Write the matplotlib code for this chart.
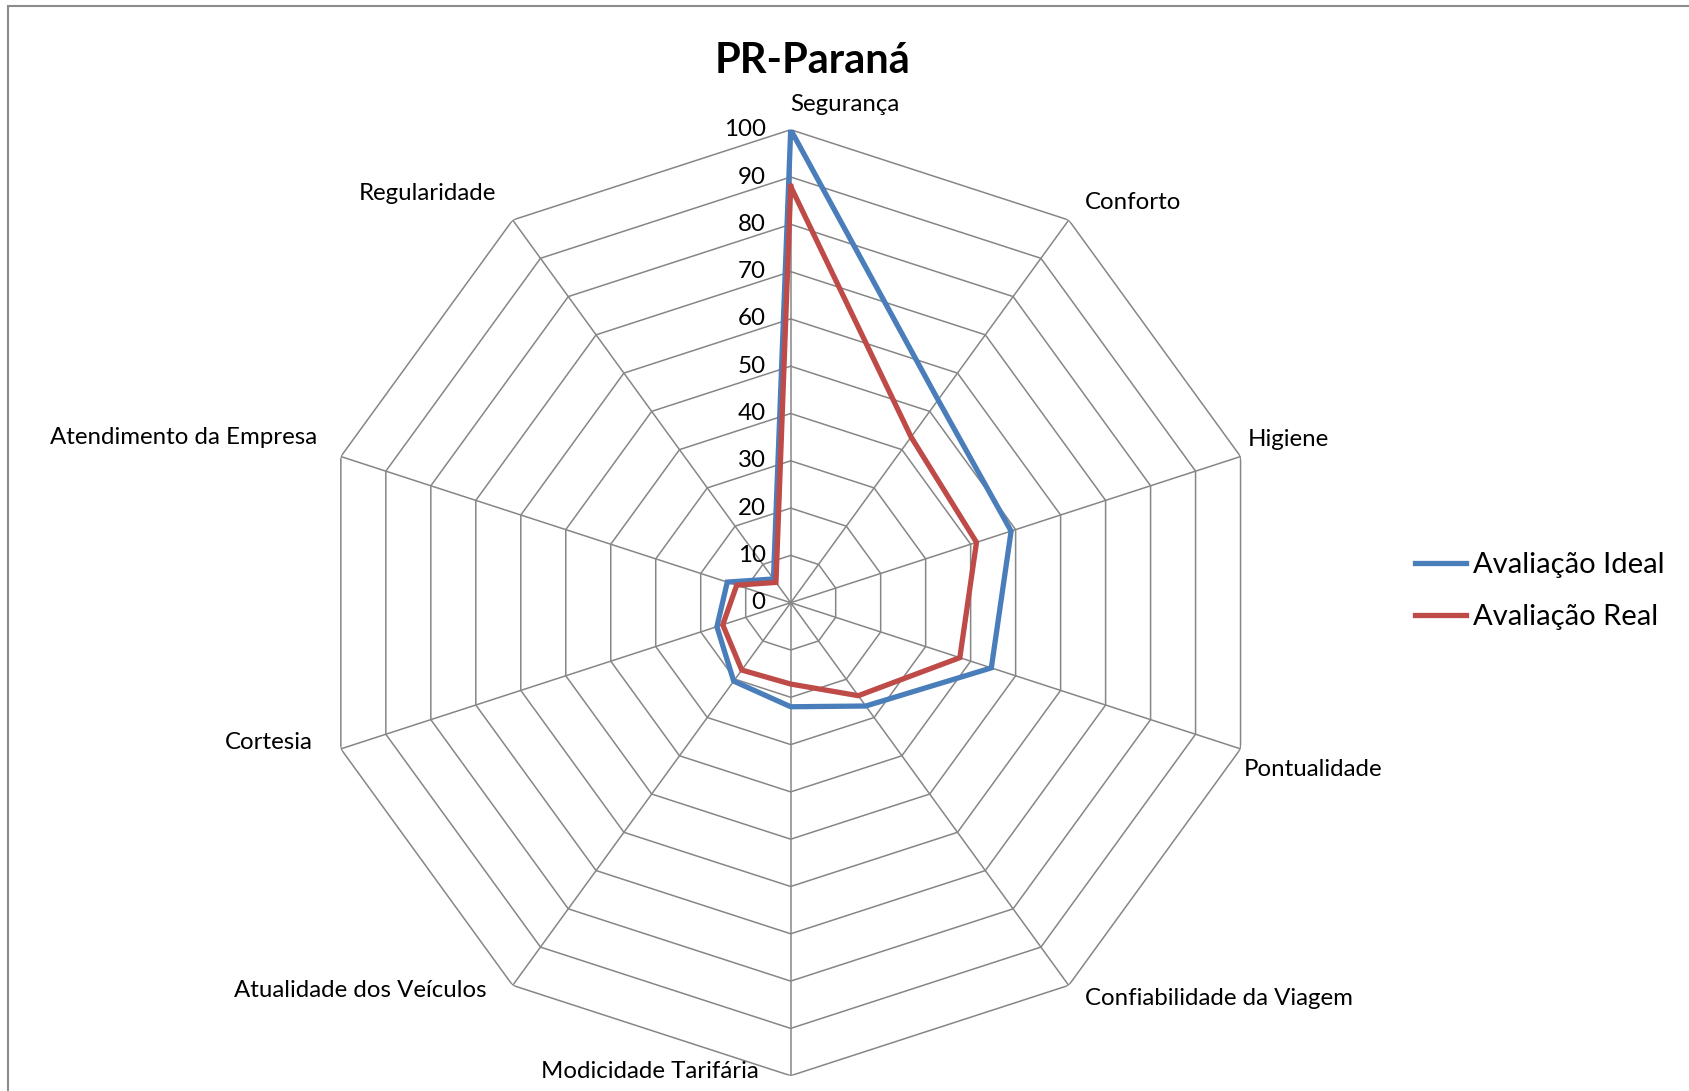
import numpy as np
import matplotlib
matplotlib.use("Agg")
import matplotlib.pyplot as plt
from matplotlib.patches import Rectangle

plt.rcParams['font.family'] = ['Lato', 'DejaVu Sans']

categories = ["Segurança", "Conforto", "Higiene", "Pontualidade", "Confiabilidade da Viagem",
              "Modicidade Tarifária", "Atualidade dos Veículos", "Cortesia",
              "Atendimento da Empresa", "Regularidade"]
ideal = [100, 53, 49, 44.6, 27, 22, 20.5, 16.4, 14.1, 6.2]
real = [88, 43.3, 41.3, 37.6, 24.3, 17.2, 17.6, 15.1, 12, 5.3]
ticks = [0, 10, 20, 30, 40, 50, 60, 70, 80, 90, 100]

# label offsets in pixels (dx, dy, ha)
label_pos = [(0, 25, 'left'), (16, 18, 'left'), (7, 17, 'left'), (3, -21, 'left'),
             (16, -13, 'left'), (-32, 4, 'right'), (-26, -5, 'right'), (-28, 6, 'right'),
             (-24, 19, 'right'), (-17, 27, 'right')]

W, H = 1689, 1091
fig = plt.figure(figsize=(W / 100, H / 100), dpi=100)
fig.patches.append(Rectangle((8 / W, -0.1), 1.2, 1 - 6 / H + 0.1, transform=fig.transFigure,
                             fill=False, edgecolor='#8c8c8c', linewidth=1.5))

cx, cy, R = 790.7, 602.7, 473
ax = fig.add_axes([(cx - R) / W, 1 - (cy + R) / H, 2 * R / W, 2 * R / H], projection='polar')
ax.set_theta_offset(np.pi / 2)
ax.set_theta_direction(-1)
ax.set_ylim(0, 100)
ax.grid(False)
ax.set_xticks([])
ax.set_yticks([])
ax.spines['polar'].set_visible(False)
ax.patch.set_alpha(0)

n = len(categories)
theta = np.arange(n) * 2 * np.pi / n
theta_c = np.append(theta, theta[0])

grid_col = '#868686'
for t in ticks[1:]:
    ax.plot(theta_c, [t] * (n + 1), color=grid_col, lw=1.1, zorder=1)
for th in theta:
    ax.plot([th, th], [0, 100], color=grid_col, lw=1.1, zorder=1)

ax.plot(theta_c, ideal + [ideal[0]], color='#4A7EBB', lw=3.8, label='Avaliação Ideal',
        zorder=3, solid_joinstyle='miter')
ax.plot(theta_c, real + [real[0]], color='#BE4B48', lw=3.8, label='Avaliação Real',
        zorder=3, solid_joinstyle='miter')

for th, lab, (dx, dy, ha) in zip(theta, categories, label_pos):
    ax.annotate(lab, xy=(th, 100), xytext=(dx, dy), textcoords='offset pixels',
                ha=ha, va='center', fontsize=17.3, color='black')

for t in ticks:
    ax.annotate(str(t), xy=(0, t), xytext=(-25, 0), textcoords='offset pixels',
                ha='right', va='center', fontsize=17.4, color='black')

fig.text(812 / W, 1 - 61 / H, 'PR-Paraná', ha='center', va='center',
         fontsize=30, fontweight='bold')

fig.legend(loc='center left', bbox_to_anchor=(1389 / W, 1 - 591 / H), frameon=False,
           fontsize=21, handlelength=1.75, handletextpad=0.22, labelspacing=0.9)

fig.savefig('out.png', dpi=100)
